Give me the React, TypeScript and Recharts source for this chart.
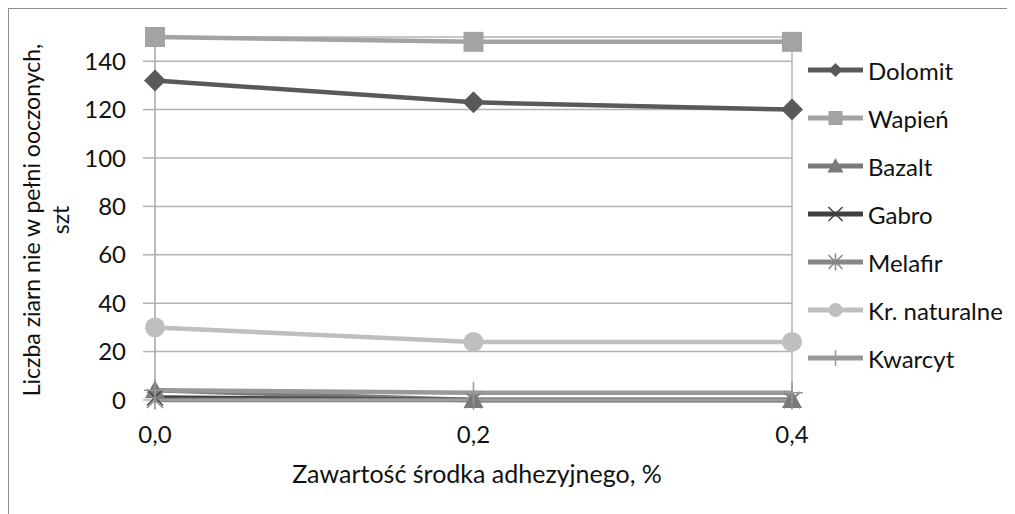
import React from 'react';
import { LineChart, Line, XAxis, YAxis, CartesianGrid, Legend, ReferenceLine } from 'recharts';

const categories = ['0,0', '0,2', '0,4'];
const dolomit = [132, 123, 120];
const wapien = [150, 148, 148];
const bazalt = [4, 0, 0];
const gabro = [1, 0, 0];
const melafir = [0, 0, 0];
const krNaturalne = [30, 24, 24];
const kwarcyt = [4, 3, 3];
const yTicks = [0, 20, 40, 60, 80, 100, 120, 140];

const xTitle = 'Zawartość środka adhezyjnego, %';
const yTitle1 = 'Liczba ziarn nie w pełni ooczonych,';
const yTitle2 = 'szt';

const FONT = "Lato, 'Open Sans', sans-serif";

type Shape = 'diamond' | 'square' | 'triangle' | 'x' | 'asterisk' | 'circle' | 'plus';

const series: { key: string; values: number[]; color: string; shape: Shape }[] = [
  { key: 'Dolomit', values: dolomit, color: '#595959', shape: 'diamond' },
  { key: 'Wapień', values: wapien, color: '#a3a3a3', shape: 'square' },
  { key: 'Bazalt', values: bazalt, color: '#7a7a7a', shape: 'triangle' },
  { key: 'Gabro', values: gabro, color: '#404040', shape: 'x' },
  { key: 'Melafir', values: melafir, color: '#868686', shape: 'asterisk' },
  { key: 'Kr. naturalne', values: krNaturalne, color: '#bfbfbf', shape: 'circle' },
  { key: 'Kwarcyt', values: kwarcyt, color: '#999999', shape: 'plus' },
];

const data = categories.map((c, i) => {
  const row: Record<string, string | number> = { cat: c };
  series.forEach((s) => {
    row[s.key] = s.values[i];
  });
  return row;
});

function Marker({ shape, color, cx, cy, s }: { shape: Shape; color: string; cx: number; cy: number; s: number }) {
  switch (shape) {
    case 'diamond':
      return <polygon points={`${cx},${cy - s} ${cx + s},${cy} ${cx},${cy + s} ${cx - s},${cy}`} fill={color} />;
    case 'square':
      return <rect x={cx - s} y={cy - s} width={2 * s} height={2 * s} fill={color} />;
    case 'triangle':
      return <polygon points={`${cx},${cy - s} ${cx + s},${cy + s * 0.8} ${cx - s},${cy + s * 0.8}`} fill={color} />;
    case 'circle':
      return <circle cx={cx} cy={cy} r={s} fill={color} />;
    case 'x':
      return (
        <g stroke={color} strokeWidth={1.5}>
          <line x1={cx - s} y1={cy - s} x2={cx + s} y2={cy + s} />
          <line x1={cx - s} y1={cy + s} x2={cx + s} y2={cy - s} />
        </g>
      );
    case 'asterisk':
      return (
        <g stroke={color} strokeWidth={1.5}>
          <line x1={cx - s} y1={cy - s} x2={cx + s} y2={cy + s} />
          <line x1={cx - s} y1={cy + s} x2={cx + s} y2={cy - s} />
          <line x1={cx} y1={cy - s * 1.2} x2={cx} y2={cy + s * 1.2} />
        </g>
      );
    case 'plus':
      return (
        <g stroke={color} strokeWidth={1.5}>
          <line x1={cx} y1={cy - s} x2={cx} y2={cy + s} />
          <line x1={cx - s} y1={cy} x2={cx + s} y2={cy} />
        </g>
      );
  }
  return null;
}

const dotSize: Record<Shape, number> = {
  diamond: 11,
  square: 10,
  triangle: 10,
  circle: 10,
  x: 8,
  asterisk: 8,
  plus: 11,
};

const legendSize: Record<Shape, number> = {
  diamond: 7,
  square: 7,
  triangle: 8,
  circle: 7,
  x: 7,
  asterisk: 7,
  plus: 8,
};

const makeDot = (shape: Shape, color: string) => (props: any) => {
  const { cx, cy, index } = props;
  if (cx == null || cy == null) return <g key={`d-${index}`} />;
  return (
    <g key={`d-${shape}-${index}`}>
      <Marker shape={shape} color={color} cx={cx} cy={cy} s={dotSize[shape]} />
    </g>
  );
};

const renderLegend = () => (
  <svg width={210} height={340} style={{ overflow: 'visible' }}>
    {series.map((s, i) => {
      const cy = 14 + 48 * i;
      return (
        <g key={s.key}>
          <line x1={3} y1={cy} x2={58} y2={cy} stroke={s.color} strokeWidth={5} />
          <Marker shape={s.shape} color={s.color} cx={30.5} cy={cy} s={legendSize[s.shape]} />
          <text x={63} y={cy} dominantBaseline="central" fontFamily={FONT} fontSize={24} fill="#111">
            {s.key}
          </text>
        </g>
      );
    })}
  </svg>
);

export default function App() {
  return (
    <div style={{ position: 'relative', width: 1007, height: 506 }}>
      <div
        style={{
          position: 'absolute',
          left: -1,
          top: -1,
          width: 1010,
          height: 510,
          borderLeft: '2px solid #8c8c8c',
          borderTop: '2px solid #8c8c8c',
        }}
      />
      <div style={{ position: 'absolute', left: -8, top: -8 }}>
        <LineChart width={1015} height={514} data={data} margin={{ top: 37, right: 13, bottom: 84, left: 95 }}>
          <CartesianGrid vertical={false} stroke="#b3b3b3" strokeWidth={1.5} />
          <XAxis
            dataKey="cat"
            axisLine={{ stroke: '#a6a6a6', strokeWidth: 1.5 }}
            tickLine={false}
            tickSize={0}
            tickMargin={26}
            height={30}
            tick={{ fill: '#111', fontSize: 24, fontFamily: FONT }}
            interval={0}
          />
          <YAxis
            width={60}
            domain={[0, 150]}
            ticks={yTicks}
            axisLine={{ stroke: '#a6a6a6', strokeWidth: 1.5 }}
            tickLine={{ stroke: '#b3b3b3', strokeWidth: 1.5 }}
            tickSize={12}
            tickMargin={17}
            tick={{ fill: '#111', fontSize: 24, fontFamily: FONT }}
          />
          <ReferenceLine x="0,4" stroke="#b3b3b3" strokeWidth={1.5} />
          <Legend
            content={renderLegend}
            layout="vertical"
            align="right"
            verticalAlign="top"
            wrapperStyle={{ position: 'absolute', left: 805, top: 56, width: 210 }}
          />
          {series.map((s) => (
            <Line
              key={s.key}
              type="linear"
              dataKey={s.key}
              stroke={s.color}
              strokeWidth={4.5}
              dot={makeDot(s.shape, s.color)}
              activeDot={false}
              isAnimationActive={false}
            />
          ))}
        </LineChart>
      </div>
      <div
        style={{
          position: 'absolute',
          left: 477 - 8 - 250,
          top: 473 - 8 - 16,
          width: 500,
          textAlign: 'center',
          fontFamily: FONT,
          fontSize: 25,
          lineHeight: '32px',
          color: '#111',
          whiteSpace: 'nowrap',
        }}
      >
        {xTitle}
      </div>
      <div
        style={{
          position: 'absolute',
          left: 46 - 8 - 200,
          top: 220 - 8 - 29,
          width: 400,
          height: 58,
          textAlign: 'center',
          fontFamily: FONT,
          fontSize: 23,
          lineHeight: '29px',
          color: '#111',
          whiteSpace: 'nowrap',
          transform: 'rotate(-90deg)',
        }}
      >
        <div>{yTitle1}</div>
        <div>{yTitle2}</div>
      </div>
    </div>
  );
}
